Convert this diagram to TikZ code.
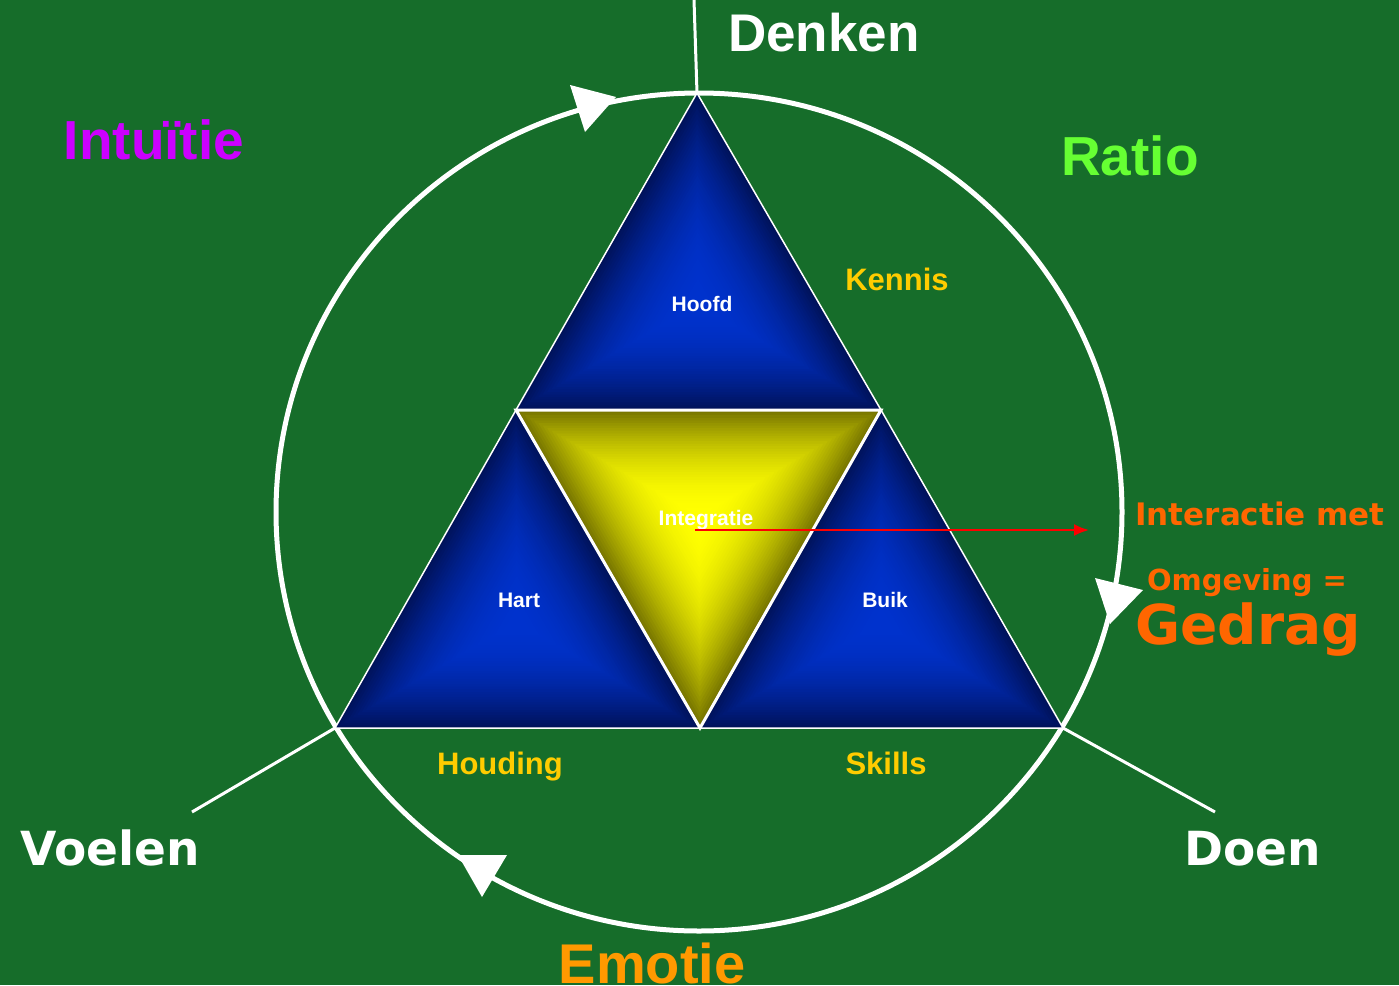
\documentclass[tikz,border=0pt]{standalone}
\usepackage{fontspec}
\setmainfont{Liberation Sans}
\newfontfamily\heavy{DejaVu Sans}
\usetikzlibrary{calc,arrows.meta}
\definecolor{bg}{RGB}{22,109,42}
\definecolor{bluein}{RGB}{0,50,205}
\definecolor{blueout}{RGB}{0,18,90}
\definecolor{yelin}{RGB}{255,255,0}
\definecolor{yelout}{RGB}{118,116,0}
\definecolor{magen}{RGB}{204,0,255}
\definecolor{ratiog}{RGB}{102,255,51}
\definecolor{gold}{RGB}{255,204,0}
\definecolor{emo}{RGB}{255,153,0}
\definecolor{oranj}{RGB}{255,102,0}
\newcommand{\pgtri}[6]{%
  \foreach \i in {0,...,40}{%
    \pgfmathsetmacro{\s}{1-\i/41}%
    \pgfmathsetmacro{\p}{100*(1-(1-\i/40)^2)}%
    \fill[#6!\p!#5] ($(#4)!\s!(#1)$) -- ($(#4)!\s!(#2)$) -- ($(#4)!\s!(#3)$) -- cycle;
  }}
\tikzset{
  lbl/.style={anchor=base, inner sep=0pt, font=\bfseries},
  small/.style={lbl, text=white, font=\fontsize{21}{21}\selectfont\bfseries},
  yel/.style={lbl, text=gold, font=\fontsize{31}{31}\selectfont\bfseries},
  big/.style={lbl, font=\fontsize{55}{55}\selectfont\bfseries},
  heavytxt/.style={lbl, font=\heavy\fontsize{47}{47}\selectfont\bfseries},
  tri/.style={draw=white, line width=1.5pt, line join=miter},
  ring/.style={draw=white, line width=5pt},
  spoke/.style={draw=white, line width=3pt},
  head/.style={fill=white},
}
\begin{document}
\begin{tikzpicture}[x=1pt,y=-1pt]
\useasboundingbox (0,0) rectangle (1399,985);
\clip (0,0) rectangle (1399,985);
\fill[bg] (0,0) rectangle (1399,985);

% vertices
\coordinate (T) at (697,93);
\coordinate (L) at (335,728);
\coordinate (R) at (1063,728);
\coordinate (ML) at (516,410);
\coordinate (MR) at (881,410);
\coordinate (MB) at (700,728);
\coordinate (cT) at ($1/3*(T)+1/3*(ML)+1/3*(MR)$);
\coordinate (cL) at ($1/3*(ML)+1/3*(L)+1/3*(MB)$);
\coordinate (cR) at ($1/3*(MR)+1/3*(MB)+1/3*(R)$);
\coordinate (cI) at ($1/3*(ML)+1/3*(MR)+1/3*(MB)$);

% ring
\draw[ring] (699,512) ellipse [x radius=423, y radius=419];

% spokes
\coordinate (topend) at (694,0);
\coordinate (lend) at (192,812);
\coordinate (rend) at (1215,812);
\draw[spoke] (T) -- (topend);
\draw[spoke] (L) -- (lend);
\draw[spoke] (R) -- (rend);

% ring arrowheads
\fill[head] (570,85) -- (585,132) -- (616,97) -- cycle;
\fill[head] (1095,578) -- (1143,590) -- (1110,624) -- cycle;
\fill[head] (458,855) -- (507,855) -- (482,897) -- cycle;

% triangles
\pgtri{T}{ML}{MR}{cT}{blueout}{bluein}
\pgtri{ML}{L}{MB}{cL}{blueout}{bluein}
\pgtri{MR}{MB}{R}{cR}{blueout}{bluein}
\draw[tri] (T) -- (ML) -- (MR) -- cycle;
\draw[tri] (ML) -- (L) -- (MB) -- cycle;
\draw[tri] (MR) -- (MB) -- (R) -- cycle;
\pgtri{ML}{MR}{MB}{cI}{yelout}{yelin}
\draw[draw=white, line width=3pt, line join=miter] (ML) -- (MR) -- (MB) -- cycle;

% inner labels
\node[small] (hoofd) at (702,311) {Hoofd};
\node[small] (integ) at (706,525) {Integratie};
\node[small] (hart) at (519,607) {Hart};
\node[small] (buik) at (885,607) {Buik};

% red arrow
\coordinate (rs) at (695,530);
\coordinate (re) at (1089,530);
\draw[red, line width=2pt, -{Latex[length=15pt,width=12pt]}] (rs) -- (re);

% yellow labels
\node[yel] (kennis) at (897,290) {Kennis};
\node[yel] (houding) at (500,774) {Houding};
\node[yel] (skills) at (886,774) {Skills};

% big labels
\node[big, text=white, font=\fontsize{53}{53}\selectfont\bfseries, anchor=base west] (denken) at (728,51) {Denken};
\node[big, text=magen] (intuitie) at (154,159) {Intuïtie};
\node[big, text=ratiog] (ratio) at (1130,175) {Ratio};
\node[heavytxt, text=white] (voelen) at (110,865) {Voelen};
\node[heavytxt, text=white] (doen) at (1253,865) {Doen};
\node[big, text=emo, font=\fontsize{56}{56}\selectfont\bfseries] (emotie) at (652,983) {Emotie};

% Gedrag block
\node[lbl, text=oranj, font=\heavy\fontsize{31}{31}\selectfont\bfseries] (inter) at (1260,525) {Interactie met};
\node[lbl, text=oranj, font=\heavy\fontsize{29}{29}\selectfont\bfseries] (omg) at (1247,590) {Omgeving =};
\node[lbl, text=oranj, font=\heavy\fontsize{55}{55}\selectfont\bfseries] (gedrag) at (1248,644) {Gedrag};
\end{tikzpicture}
\end{document}
